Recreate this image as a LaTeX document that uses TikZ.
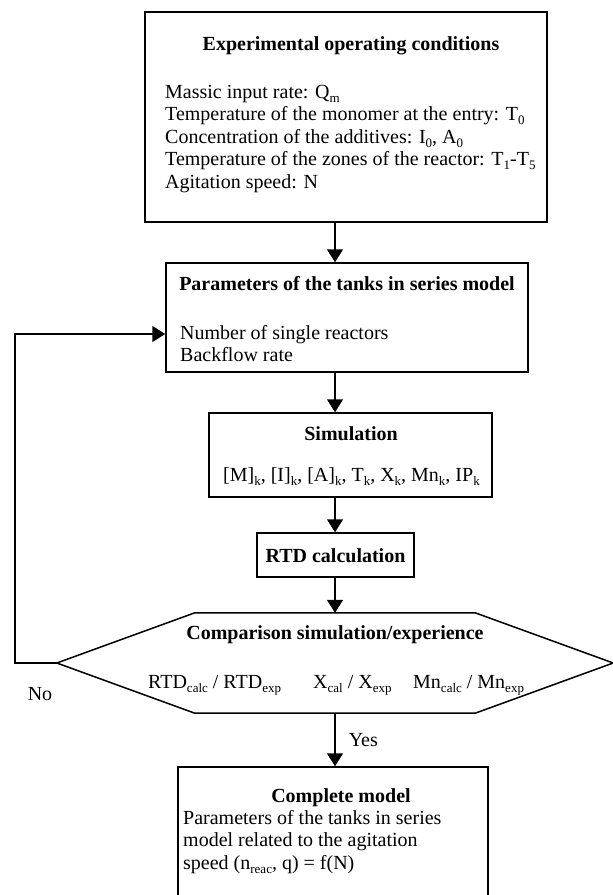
\documentclass[tikz,border=0pt]{standalone}
\usepackage{fontspec}
\setmainfont{Liberation Serif}
\usetikzlibrary{arrows.meta,calc}
\newcommand{\lowsub}[1]{\raisebox{-0.45ex}{\fontsize{13}{13}\selectfont #1}}

\begin{document}
\begin{tikzpicture}[x=1pt,y=-1pt,
  every node/.style={font=\fontsize{20}{22.5}\selectfont,inner sep=0pt},
  box/.style={draw,line width=1.5pt},
  flow/.style={line width=1.5pt,-{Triangle[width=16pt,length=13pt]}}]
\useasboundingbox (0,0) rectangle (613,895);
\coordinate (spine) at (335,0);
\coordinate (back) at (15,334);
% boxes
\node[box,minimum width=402pt,minimum height=210pt] (cond) at (346,117) {};
\node[box,minimum width=362pt,minimum height=109pt] (param) at (347,317.5) {};
\node[box,minimum width=283pt,minimum height=84pt] (simu) at (350.5,455) {};
\node[box,minimum width=157pt,minimum height=44pt] (rtd) at (335.5,555) {};
\node[minimum width=556pt,minimum height=100pt] (cmp) at (335,663) {};
\node[box,minimum width=310pt,minimum height=138pt] (model) at (333,836) {};
\draw[line width=1.5pt] (cmp.west) -- ($(cmp.north west)+(138,0)$) -- ($(cmp.north east)-(138,0)$)
  -- (cmp.east) -- ($(cmp.south east)-(138,0)$) -- ($(cmp.south west)+(138,0)$) -- cycle;
% texts
\node[anchor=base,font=\fontsize{20}{22.5}\selectfont\bfseries] (condT) at (351,50) {Experimental operating conditions};
\foreach \t [count=\i] in {Massic input rate: Q\lowsub{m},
    Temperature of the monomer at the entry: T\lowsub{0},
    {Concentration of the additives: I\lowsub{0}, A\lowsub{0}},
    Temperature of the zones of the reactor: T\lowsub{1}-T\lowsub{5},
    Agitation speed: N}
  \node[anchor=base west] (cond\i) at (165,{98+22.5*(\i-1)}) {\t};
\node[anchor=base,font=\fontsize{20}{22.5}\selectfont\bfseries] (paramT) at (347,290) {Parameters of the tanks in series model};
\node[anchor=base west] (param1) at (180,339) {Number of single reactors};
\node[anchor=base west] (param2) at (180,361.5) {Backflow rate};
\node[anchor=base,font=\fontsize{20}{22.5}\selectfont\bfseries] (simuT) at (351,440) {Simulation};
\node[anchor=base west] (simu1) at (223,481) {[M]\lowsub{k}, [I]\lowsub{k}, [A]\lowsub{k}, T\lowsub{k}, X\lowsub{k}, Mn\lowsub{k}, IP\lowsub{k}};
\node[anchor=base,font=\fontsize{20}{22.5}\selectfont\bfseries] (rtdT) at (335.5,562) {RTD calculation};
\node[anchor=base,font=\fontsize{20}{22.5}\selectfont\bfseries] (cmpT) at (335,639) {Comparison simulation/experience};
\node[anchor=base west] (cmp1) at (148,688) {RTD\lowsub{calc} / RTD\lowsub{exp}};
\node[anchor=base west] (cmp2) at (313,688) {X\lowsub{cal} / X\lowsub{exp}};
\node[anchor=base west] (cmp3) at (413,688) {Mn\lowsub{calc} / Mn\lowsub{exp}};
\node[anchor=base,font=\fontsize{20}{22.5}\selectfont\bfseries] (modelT) at (341,802) {Complete model};
\node[anchor=base west] (model1) at (183,824) {Parameters of the tanks in series};
\node[anchor=base west] (model2) at (183,846.5) {model related to the agitation};
\node[anchor=base west] (model3) at (183,869) {speed (n\lowsub{reac}, q) = f(N)};
% connectors
\draw[flow] (cond.south -| spine) -- (param.north -| spine);
\draw[flow] (param.south -| spine) -- (simu.north -| spine);
\draw[flow] (simu.south -| spine) -- (rtd.north -| spine);
\draw[flow] (rtd.south -| spine) -- (cmp.north -| spine);
\draw[flow] (cmp.south -| spine) -- node[right=13pt,anchor=west] (yes) {Yes} (model.north -| spine);
\draw[flow] (cmp.west) -| (back) -- (back -| param.west);
\node[anchor=base] (no) at (40,700) {No};
\end{tikzpicture}
\end{document}
